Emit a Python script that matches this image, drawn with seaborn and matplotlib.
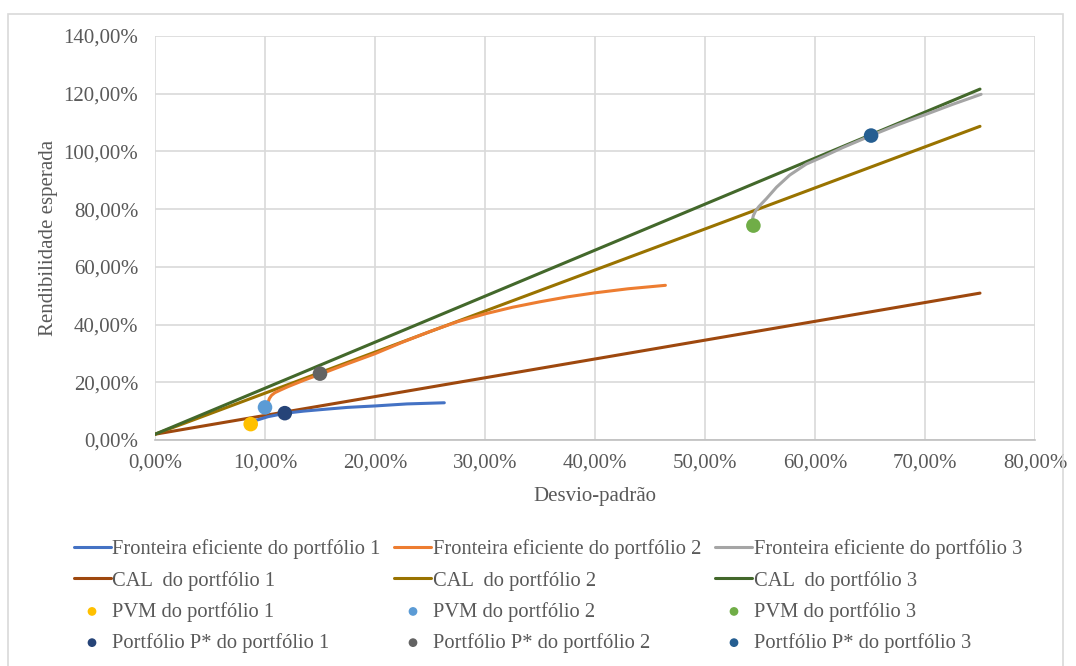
import matplotlib
matplotlib.use("Agg")
import matplotlib.pyplot as plt
import matplotlib.patches as mpatches
from matplotlib.ticker import FuncFormatter, MultipleLocator
import seaborn as sns

# ---- data (percent) ----
f1_x = [9.1, 10.3, 11.9, 13.5, 15.3, 17.5, 20.0, 22.9, 26.3]
f1_y = [6.7, 8.1, 9.3, 10.0, 10.6, 11.3, 11.8, 12.5, 12.9]
f2_x = [10.3, 10.4, 10.6, 10.9, 11.4, 12.1, 13.6, 15.1, 17.5, 20.0, 22.5, 25.0, 27.5,
        30.1, 32.5, 35.0, 37.5, 40.0, 43.0, 46.4]
f2_y = [13.3, 14.4, 15.5, 16.4, 17.3, 18.5, 20.8, 22.9, 26.4, 29.9, 33.9, 37.6, 41.0,
        43.8, 46.0, 47.9, 49.6, 51.0, 52.4, 53.6]
f3_x = [54.3, 54.4, 54.6, 54.9, 55.6, 56.5, 57.7, 59.2, 60.75, 62.5, 65.1, 67.5, 70.2, 72.5, 75.1]
f3_y = [76.2, 77.8, 79.4, 80.9, 83.7, 87.6, 91.8, 95.6, 98.2, 101.3, 105.5, 109.2, 113.0, 116.3, 119.8]
cal_x = [0.0, 75.0]
cal1_y = [2.0, 50.9]
cal2_y = [2.0, 108.7]
cal3_y = [2.0, 121.6]
pvm_x = [8.7, 10.0, 54.4]
pvm_y = [5.5, 11.3, 74.3]
pstar_x = [11.8, 15.0, 65.1]
pstar_y = [9.3, 23.0, 105.5]

labels_front = ["Fronteira eficiente do portfólio 1", "Fronteira eficiente do portfólio 2",
                "Fronteira eficiente do portfólio 3"]
labels_cal = ["CAL  do portfólio 1", "CAL  do portfólio 2", "CAL  do portfólio 3"]
labels_pvm = ["PVM do portfólio 1", "PVM do portfólio 2", "PVM do portfólio 3"]
labels_pstar = ["Portfólio P* do portfólio 1", "Portfólio P* do portfólio 2", "Portfólio P* do portfólio 3"]

col_front = ["#4472C4", "#ED7D31", "#A5A5A5"]
col_cal = ["#9E480E", "#997300", "#43682B"]
col_pvm = ["#FFC000", "#5B9BD5", "#70AD47"]
col_pstar = ["#264478", "#636363", "#255E91"]

sns.set_theme(style="white")
plt.rcParams["font.family"] = ["Liberation Serif", "DejaVu Serif"]
txt = "#595959"
FS = 15

fig = plt.figure(figsize=(10.76, 6.66), dpi=100)
ax = fig.add_axes([155/1076, 1-440/666, 880/1076, 404/666])

for xs, ys, lab, c in zip([f1_x, f2_x, f3_x], [f1_y, f2_y, f3_y], labels_front, col_front):
    sns.lineplot(x=xs, y=ys, sort=False, color=c, lw=2.2, ax=ax, label=lab, zorder=3,
                 solid_joinstyle="round", solid_capstyle="round")
for ys, lab, c in zip([cal1_y, cal2_y, cal3_y], labels_cal, col_cal):
    sns.lineplot(x=cal_x, y=ys, sort=False, color=c, lw=2.2, ax=ax, label=lab, zorder=2)
for i in range(3):
    sns.scatterplot(x=[pvm_x[i]], y=[pvm_y[i]], color=col_pvm[i], s=110, edgecolor="none",
                    ax=ax, label=labels_pvm[i], zorder=5)
for i in range(3):
    sns.scatterplot(x=[pstar_x[i]], y=[pstar_y[i]], color=col_pstar[i], s=110, edgecolor="none",
                    ax=ax, label=labels_pstar[i], zorder=5)

ax.set_xlim(0, 80)
ax.set_ylim(0, 140)
ax.xaxis.set_major_locator(MultipleLocator(10))
ax.yaxis.set_major_locator(MultipleLocator(20))
fmt = FuncFormatter(lambda v, p: f"{v:.2f}%".replace(".", ","))
ax.xaxis.set_major_formatter(fmt)
ax.yaxis.set_major_formatter(fmt)
ax.grid(True, color="#D9D9D9", lw=1.2)
ax.set_axisbelow(True)
for s in ["top", "right", "left"]:
    ax.spines[s].set_visible(False)
ax.spines["bottom"].set_color("#BFBFBF")
ax.spines["bottom"].set_linewidth(1.2)
ax.tick_params(axis="both", length=0, labelsize=FS, colors=txt)
ax.tick_params(axis="y", pad=12)
ax.tick_params(axis="x", pad=10)
ax.set_xlabel("Desvio-padrão", fontsize=FS, color=txt, labelpad=10)
ax.set_ylabel("Rendibilidade esperada", fontsize=FS, color=txt, labelpad=4)

h, l = ax.get_legend_handles_labels()
ax.get_legend().remove()
order = [0, 3, 6, 9, 1, 4, 7, 10, 2, 5, 8, 11]
fig.legend([h[i] for i in order], [l[i] for i in order], ncol=3, loc="upper left",
           bbox_to_anchor=(55/1076, 1-521/666), frameon=False, fontsize=14.8,
           handlelength=1.8, handletextpad=0.08, columnspacing=0.68, labelspacing=0.55,
           markerscale=0.6, labelcolor=txt)

fig.patches.append(mpatches.Rectangle((8/1076, -0.05), 1055/1076, 1.05 - 14/666,
                                      transform=fig.transFigure, fill=False,
                                      edgecolor="#D9D9D9", lw=1.2))

fig.savefig("out.png", dpi=100, facecolor="white")
